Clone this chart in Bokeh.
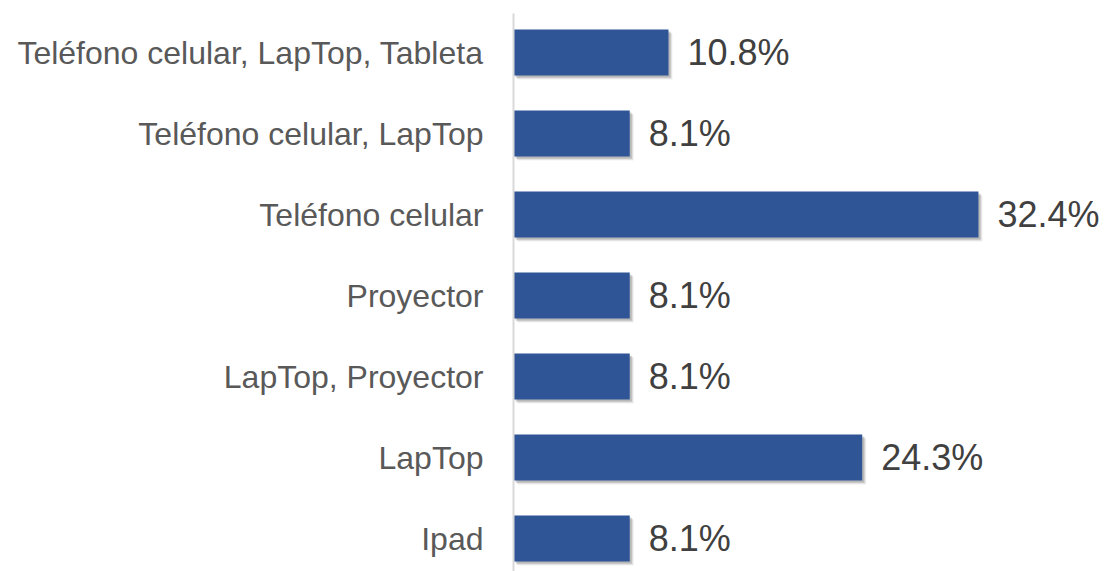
from bokeh.plotting import figure
from bokeh.models import ColumnDataSource, FixedTicker
from bokeh.core.properties import value
from bokeh.embed import file_html
from bokeh.resources import INLINE

categories = ["Ipad", "LapTop", "LapTop, Proyector", "Proyector",
              "Teléfono celular", "Teléfono celular, LapTop",
              "Teléfono celular, LapTop, Tableta"]
values = [8.1, 24.3, 8.1, 8.1, 32.4, 8.1, 10.8]
labels = [f"{v:.1f}%" for v in values]

pos = list(range(len(categories)))

BAR_H = 0.57
PX_X = 14.35   # px per unit on x
PX_Y = 81.0    # px per unit on y

p = figure(width=1108, height=571, output_backend="svg", toolbar_location=None,
           x_range=(0, 595 / PX_X), y_range=(-33 / PX_Y, 6 + 39 / PX_Y),
           x_axis_location=None, min_border_left=513, min_border_top=13,
           min_border_bottom=0, min_border_right=0)
p.outline_line_color = None
p.grid.visible = False
p.background_fill_color = "white"
p.border_fill_color = "white"

# soft drop shadows
for dx, dy, a in [(4, 4, 0.06), (3, 3, 0.10), (2, 2, 0.14)]:
    sh = ColumnDataSource(dict(
        y=[y - dy / PX_Y for y in pos],
        left=[dx / PX_X for _ in pos],
        right=[v + dx / PX_X for v in values]))
    p.hbar(y="y", left="left", right="right", height=BAR_H, source=sh,
           fill_color="black", fill_alpha=a, line_color=None)

src = ColumnDataSource(dict(y=pos, v=values, lab=labels))
p.hbar(y="y", left=0, right="v", height=BAR_H, source=src,
       fill_color="#2F5597", line_color=None)
p.text(x="v", y="y", text="lab", source=src, x_offset=19,
       text_baseline="middle", text_align="left",
       text_font=value("Liberation Sans"), text_font_size="36px",
       text_color="#404040")

ax = p.yaxis[0]
ax.ticker = FixedTicker(ticks=pos)
ax.major_label_overrides = {i: c for i, c in enumerate(categories)}
ax.major_tick_line_color = None
ax.minor_tick_line_color = None
ax.axis_line_color = "#d9d9d9"
ax.axis_line_width = 2
ax.major_label_standoff = 24
ax.major_label_text_font = "Liberation Sans"
ax.major_label_text_font_size = "32px"
ax.major_label_text_color = "#595959"

open("out.html", "w").write(file_html(p, INLINE))
